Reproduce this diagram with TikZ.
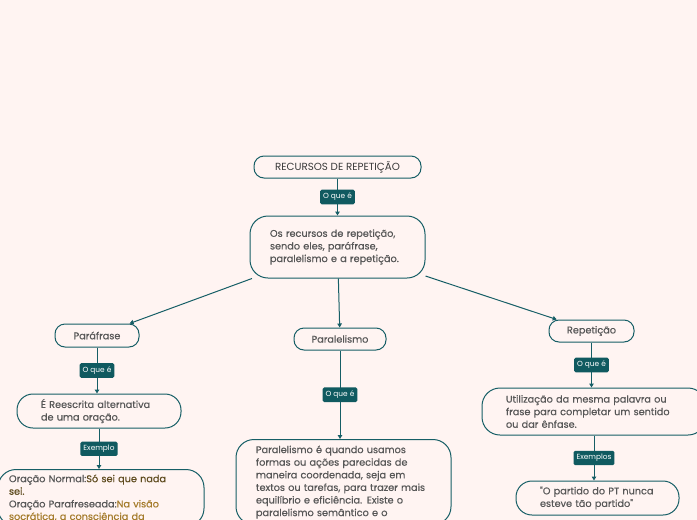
\documentclass[tikz,border=0pt]{standalone}
\usepackage{fontspec}
\setmainfont{Poppins}
\newfontfamily\mapfont{Poppins}[FakeBold=0.5]
\usetikzlibrary{arrows.meta}

\definecolor{bgpink}{HTML}{FFF4F2}
\definecolor{mapteal}{HTML}{165E66}
\definecolor{tagteal}{HTML}{105A60}
\definecolor{txtgray}{HTML}{575757}
\definecolor{titlegray}{HTML}{3A3A3A}
\definecolor{txtbrown}{HTML}{5E4B1E}
\definecolor{txtgold}{HTML}{A57C2C}

\tikzset{
  topic/.style={draw=mapteal, line width=1pt, fill=bgpink, rounded corners=10pt,
    text=txtgray, font=\mapfont\fontsize{9.7}{12.6}\selectfont, align=left},
  tag/.style={fill=tagteal, text=white, rounded corners=1.5pt,
    font=\fontsize{7.4}{8}\selectfont, inner xsep=3pt, inner ysep=3.5pt},
  link/.style={draw=mapteal, line width=1pt, -{Triangle[length=4pt,width=4.5pt]}},
}

\begin{document}
\begin{tikzpicture}[%
      x=1pt, y=-1pt,
      ]
      \useasboundingbox (0,0) rectangle (697,520);
      \fill [bgpink] (0,0) rectangle (697,520);
      \clip (0,0) rectangle (697,520);

      \node [topic, font=\fontsize{10.3}{12}\selectfont, text=titlegray, minimum width=167, minimum height=22] (title) at (337.5,167) {RECURSOS DE REPETIÇÃO};
      \node [topic, rounded corners=18pt, minimum width=175, minimum height=62, text width=135] (main) at (337.5,247)
        {Os recursos de repetição,\\ sendo eles, paráfrase,\\ paralelismo e a repetição.};

      \node [topic, minimum width=84, minimum height=23] (paraf) at (97,335.5) {Paráfrase};
      \node [topic, minimum width=92, minimum height=22] (paral) at (340,339) {Paralelismo};
      \node [topic, minimum width=85, minimum height=22] (repet) at (591.5,331) {Repetição};

      \node [topic, rounded corners=16pt, minimum width=164, minimum height=34, text width=116] (parafdef) at (99,411)
        {É Reescrita alternativa\\ de uma oração.};
      \node [topic, rounded corners=18pt, anchor=north, minimum width=206, text width=184, inner ysep=5pt] (parafex) at (101,469)
        {Oração Normal:\textcolor{txtbrown}{Só sei que nada}\\ \textcolor{txtbrown}{sei.}\\
         Oração Parafreseada:\textcolor{txtgold}{Na visão}\\ \textcolor{txtgold}{socrática, a consciência da}};

      \node [topic, rounded corners=18pt, anchor=north, minimum width=215, text width=175, inner ysep=6pt] (paraldef) at (343.5,439)
        {Paralelismo é quando usamos\\ formas ou ações parecidas de\\ maneira coordenada, seja em\\
         textos ou tarefas, para trazer mais\\ equilíbrio e eficiência. Existe o\\ paralelismo semântico e o};

      \node [topic, rounded corners=18pt, minimum width=224, minimum height=47, text width=176] (repdef) at (594,411.5)
        {Utilização da mesma palavra ou\\ frase para completar um sentido\\ ou dar ênfase.};
      \node [topic, rounded corners=16pt, minimum width=163, minimum height=34, text width=115] (repex) at (597.5,498)
        {"O partido do PT nunca\\ esteve tão partido"};

      \draw [link] (title) -- node [tag] {O que é} (main);
      \draw [link] (main) -- (paraf);
      \draw [link] (main) -- (paral);
      \draw [link] (main) -- (repet);

      \draw [link] (paraf.south) -- node [tag] {O que é} (paraf.south |- parafdef.north);
      \draw [link] (parafdef.south) -- node [tag] {Exemplo} (parafdef.south |- parafex.north);

      \draw [link] (paral.south) -- node [tag] {O que é} (paral.south |- paraldef.north);

      \draw [link] (repet.south) -- node [tag] {O que é} (repet.south |- repdef.north);
      \draw [link] (repdef.south) -- node [tag] {Exemplos} (repdef.south |- repex.north);
      \end{tikzpicture}
\end{document}
